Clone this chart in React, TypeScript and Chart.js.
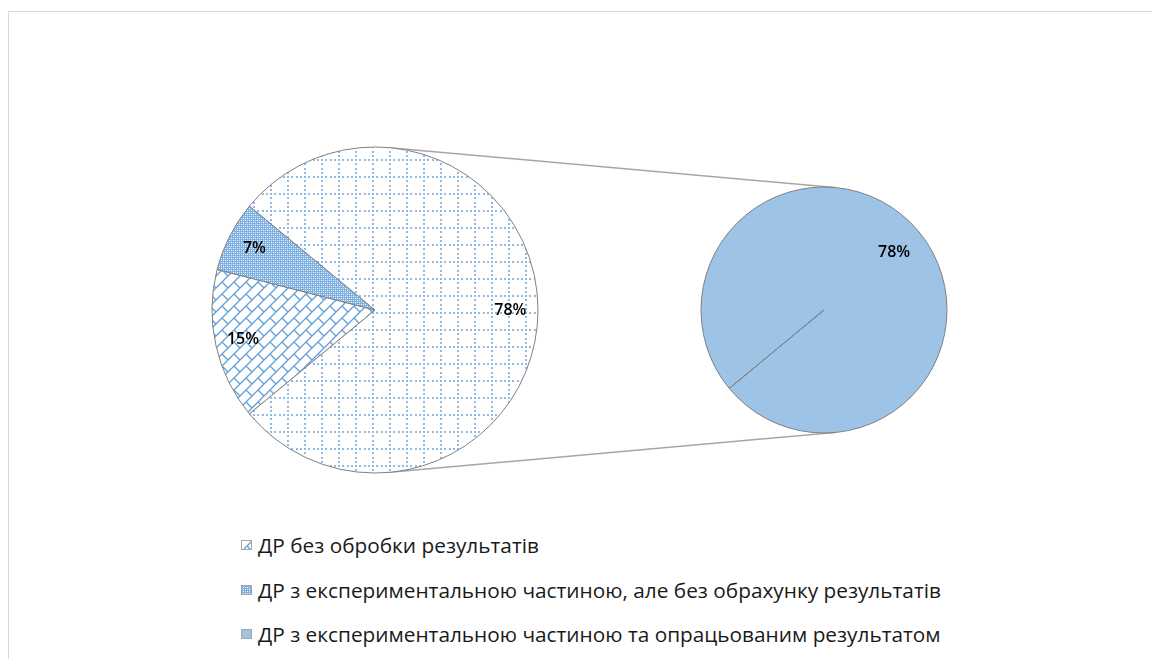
import React, { useEffect, useRef } from "react";
import { Chart, registerables } from "chart.js";

Chart.register(...registerables);

// ---------- data ----------
const categories = [
  "ДР без обробки результатів",
  "ДР з експериментальною частиною, але без обрахунку результатів",
  "ДР з експериментальною частиною та опрацьованим результатом",
];
const shares = [15, 7, 78];
const secondaryFrom = 2; // categories from this index are split into the secondary pie
const otherLabel = "Інше";

const primaryLabels = [...categories.slice(0, secondaryFrom), otherLabel];
const primaryValues = [
  ...shares.slice(0, secondaryFrom),
  shares.slice(secondaryFrom).reduce((a, b) => a + b, 0),
];
const secondaryLabels = categories.slice(secondaryFrom);
const secondaryValues = shares.slice(secondaryFrom);

// ---------- layout / style ----------
const LEFT = { cx: 375, cy: 310, r: 163 };
const RIGHT = { cx: 824, cy: 310, r: 123 };
const BORDER = "#7F7F7F";
const BLUE = "#5B9BD5";
const SECONDARY_FILL = "#9DC3E6";
const LABEL_FONT = '600 16px "Open Sans"';
const LEGEND_FONT = '20.8px "Open Sans"';

// rotation so that the "other" slice faces the secondary pie (centered at 3 o'clock)
const total = primaryValues.reduce((a, b) => a + b, 0);
const otherVal = primaryValues[primaryValues.length - 1];
const startScreenDeg = 360 - ((total - otherVal) / total) * 360 - (otherVal / total) * 180;
const ROTATION = startScreenDeg + 90;

function mod(a: number, m: number) {
  return ((a % m) + m) % m;
}

function makeTile(kind: string, ox: number, oy: number): HTMLCanvasElement {
  const c = document.createElement("canvas");
  const g = c.getContext("2d")!;
  if (kind === "grid") {
    const s = 17;
    c.width = s;
    c.height = s;
    g.fillStyle = "#fff";
    g.fillRect(0, 0, s, s);
    g.fillStyle = "#8FBBE6";
    const vx = mod(16 - ox, s);
    const hy = mod(7 - oy, s);
    for (let k = 0; k < 4; k++) {
      const p = Math.round((k * s) / 4);
      for (const dx of [-s, 0, s]) {
        for (const dy of [-s, 0, s]) {
          g.fillRect(vx - 1 + dx, hy + p - 1 + dy, 2, 2);
          g.fillRect(vx + p - 1 + dx, hy - 1 + dy, 2, 2);
        }
      }
    }
  } else if (kind === "brick") {
    const s = 12;
    c.width = s;
    c.height = s;
    g.fillStyle = "#fff";
    g.fillRect(0, 0, s, s);
    g.strokeStyle = "#5F9EDA";
    g.lineWidth = 1.3;
    const bx = mod(-ox, s);
    const by = mod(-oy, s);
    for (const dx of [-s, 0, s]) {
      for (const dy of [-s, 0, s]) {
        g.beginPath();
        g.moveTo(bx + s + dx, by + dy);
        g.lineTo(bx + dx, by + s + dy);
        g.moveTo(bx + s / 2 + dx, by + s / 2 + dy);
        g.lineTo(bx + s + dx, by + s + dy);
        g.stroke();
      }
    }
  } else {
    const s = 4;
    c.width = s;
    c.height = s;
    g.fillStyle = "#7DB0E3";
    g.fillRect(0, 0, s, s);
    g.fillStyle = "#ffffff";
    g.fillRect(0, 0, 1, 1);
    g.fillRect(2, 2, 1, 1);
    g.fillStyle = "#CFE2F4";
    g.fillRect(2, 0, 1, 1);
    g.fillRect(0, 2, 1, 1);
  }
  return c;
}

function labelPlugin(factor: number) {
  return {
    id: "sliceLabels",
    afterDatasetsDraw(chart: any) {
      const ctx = chart.ctx;
      const meta = chart.getDatasetMeta(0);
      const data = chart.data.datasets[0].data as number[];
      ctx.save();
      ctx.font = LABEL_FONT;
      ctx.fillStyle = "#000";
      ctx.textAlign = "center";
      ctx.textBaseline = "middle";
      meta.data.forEach((arc: any, i: number) => {
        if (!data[i]) return;
        const { x, y, startAngle, endAngle, outerRadius } = arc.getProps(
          ["x", "y", "startAngle", "endAngle", "outerRadius"],
          true
        );
        const mid = (startAngle + endAngle) / 2;
        ctx.fillText(
          data[i] + "%",
          x + Math.cos(mid) * outerRadius * factor,
          y + Math.sin(mid) * outerRadius * factor
        );
      });
      ctx.restore();
    },
  };
}

function tangentPoints() {
  const dx = RIGHT.cx - LEFT.cx;
  const dy = RIGHT.cy - LEFT.cy;
  const D = Math.hypot(dx, dy);
  const phi = Math.atan2(dy, dx);
  const a = Math.acos((LEFT.r - RIGHT.r) / D);
  return [phi - a, phi + a].map((t) => ({
    x1: LEFT.cx + LEFT.r * Math.cos(t),
    y1: LEFT.cy + LEFT.r * Math.sin(t),
    x2: RIGHT.cx + RIGHT.r * Math.cos(t),
    y2: RIGHT.cy + RIGHT.r * Math.sin(t),
  }));
}

const LEFT_BOX = LEFT.r + 7;
const RIGHT_BOX = RIGHT.r + 7;
const legendY = [545, 590, 634];

export default function App() {
  const leftRef = useRef<HTMLCanvasElement>(null);
  const rightRef = useRef<HTMLCanvasElement>(null);
  const swatchRefs = useRef<(HTMLCanvasElement | null)[]>([]);

  useEffect(() => {
    const lc = leftRef.current!;
    const rc = rightRef.current!;
    const lctx = lc.getContext("2d")!;
    const ox = LEFT.cx - LEFT_BOX;
    const oy = LEFT.cy - LEFT_BOX;
    const kinds = ["brick", "checker", "grid"];
    const primaryFills = kinds.map((k) => lctx.createPattern(makeTile(k, ox, oy), "repeat"));

    const left = new Chart(lc, {
      type: "pie",
      data: {
        labels: primaryLabels,
        datasets: [
          {
            data: primaryValues,
            backgroundColor: primaryFills as any,
            borderColor: BORDER,
            borderWidth: 1,
            hoverOffset: 0,
            radius: LEFT.r,
          } as any,
        ],
      },
      options: {
        responsive: false,
        animation: false,
        events: [],
        rotation: ROTATION,
        layout: { padding: 0 },
        plugins: { legend: { display: false }, tooltip: { enabled: false } },
      },
      plugins: [labelPlugin(0.83)],
    });

    const right = new Chart(rc, {
      type: "pie",
      data: {
        labels: secondaryLabels,
        datasets: [
          {
            data: secondaryValues,
            backgroundColor: SECONDARY_FILL,
            borderColor: BORDER,
            borderWidth: 1,
            hoverOffset: 0,
            radius: RIGHT.r,
          } as any,
        ],
      },
      options: {
        responsive: false,
        animation: false,
        events: [],
        rotation: ROTATION,
        layout: { padding: 0 },
        plugins: { legend: { display: false }, tooltip: { enabled: false } },
      },
      plugins: [labelPlugin(0.74)],
    });

    // legend swatches
    swatchRefs.current.forEach((c, i) => {
      if (!c) return;
      const g = c.getContext("2d")!;
      g.clearRect(0, 0, c.width, c.height);
      if (i < secondaryFrom) {
        g.fillStyle = g.createPattern(makeTile(kinds[i], 0, 0), "repeat")!;
      } else {
        g.fillStyle = SECONDARY_FILL;
      }
      g.fillRect(0, 0, c.width, c.height);
      g.strokeStyle = "#A6A6A6";
      g.lineWidth = 1;
      g.strokeRect(0.5, 0.5, c.width - 1, c.height - 1);
    });

    return () => {
      left.destroy();
      right.destroy();
    };
  }, []);

  const lines = tangentPoints();

  return (
    <div
      style={{
        position: "absolute",
        left: 0,
        top: 0,
        width: 1152,
        height: 659,
        overflow: "hidden",
        background: "#fff",
      }}
    >
      <div
        style={{
          position: "absolute",
          left: 8,
          top: 11,
          width: 1200,
          height: 700,
          border: "1px solid #D9D9D9",
        }}
      />
      <svg
        width={1152}
        height={659}
        style={{ position: "absolute", left: 0, top: 0 }}
      >
        {lines.map((l, i) => (
          <line key={i} x1={l.x1} y1={l.y1} x2={l.x2} y2={l.y2} stroke="#A6A6A6" strokeWidth={1.5} />
        ))}
      </svg>
      <canvas
        ref={leftRef}
        width={LEFT_BOX * 2}
        height={LEFT_BOX * 2}
        style={{ position: "absolute", left: LEFT.cx - LEFT_BOX, top: LEFT.cy - LEFT_BOX }}
      />
      <canvas
        ref={rightRef}
        width={RIGHT_BOX * 2}
        height={RIGHT_BOX * 2}
        style={{ position: "absolute", left: RIGHT.cx - RIGHT_BOX, top: RIGHT.cy - RIGHT_BOX }}
      />
      {categories.map((c, i) => (
        <div
          key={i}
          style={{
            position: "absolute",
            left: 241,
            top: legendY[i] - 15,
            height: 30,
            display: "flex",
            alignItems: "center",
            whiteSpace: "nowrap",
            font: LEGEND_FONT,
            color: "#1A1A1A",
          }}
        >
          <canvas
            ref={(el) => {
              swatchRefs.current[i] = el;
            }}
            width={11}
            height={10}
            style={{ marginRight: 6, display: "block" }}
          />
          <span>{c}</span>
        </div>
      ))}
    </div>
  );
}
